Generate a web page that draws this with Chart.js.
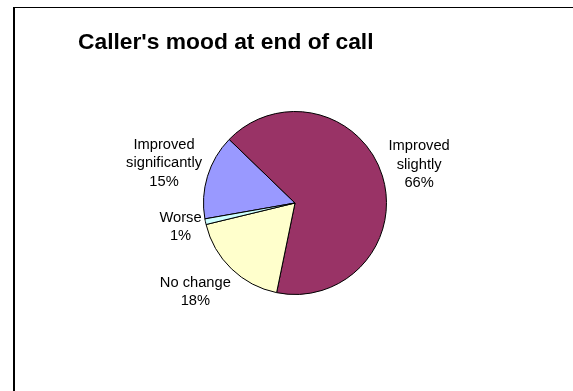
<!DOCTYPE html>
<html>
<head>
<meta charset="utf-8">
<title>Caller's mood at end of call</title>
<script src="https://cdn.jsdelivr.net/npm/chart.js@4.4.0/dist/chart.umd.min.js"></script>
<style>
  html, body { margin: 0; padding: 0; background: #fff; }
  canvas { display: block; }
</style>
</head>
<body>
<canvas id="mood" width="573" height="391"></canvas>
<script>
const moodLabels = [["Improved", "significantly"], ["Improved", "slightly"], ["No change"], ["Worse"]];
const moodShares = [15, 66, 18, 1];
const sliceColors = ["#9999FF", "#993366", "#FFFFCC", "#CCFFFF"];

const chartTitle = "Caller's mood at end of call";
const fontFamily = "'Liberation Sans', Arial, sans-serif";
const labelFont = "14.7px " + fontFamily;
const lineHeight = 18.5;

// white page plus the frame's left and top edges
const framePlugin = {
    id: "frame",
    beforeDraw(chart) {
        const ctx = chart.ctx;
        ctx.save();
        ctx.fillStyle = "#fff";
        ctx.fillRect(0, 0, chart.width, chart.height);
        ctx.fillStyle = "#000";
        ctx.fillRect(13, 7, chart.width - 13, 1);
        ctx.fillRect(13, 7, 2, chart.height - 7);
        ctx.font = "bold 22.8px " + fontFamily;
        ctx.textAlign = "left";
        ctx.textBaseline = "alphabetic";
        ctx.fillText(chartTitle, 78, 49);
        ctx.restore();
    }
};

// category name + percentage, pushed out along each slice's middle angle
const sliceLabelPlugin = {
    id: "sliceLabels",
    afterDatasetsDraw(chart, args, opts) {
        const ctx = chart.ctx;
        const meta = chart.getDatasetMeta(0);
        const values = chart.data.datasets[0].data;
        const total = values.reduce((a, b) => a + b, 0);
        ctx.save();
        ctx.font = labelFont;
        ctx.fillStyle = "#000";
        ctx.textAlign = "center";
        ctx.textBaseline = "middle";
        meta.data.forEach((arc, i) => {
            const lines = [...chart.data.labels[i], Math.round(values[i] / total * 100) + "%"];
            const w = Math.max(...lines.map(l => ctx.measureText(l).width));
            const h = lines.length * lineHeight;
            const p = arc.getProps(["x", "y", "startAngle", "endAngle", "outerRadius"], true);
            const mid = (p.startAngle + p.endAngle) / 2;
            const dx = Math.cos(mid), dy = Math.sin(mid);
            const reach = p.outerRadius + 1 + Math.abs(dx) * w / 2 + Math.abs(dy) * h / 2;
            const nudge = (opts.nudge || {})[i] || [0, 0];
            const cx = p.x + dx * reach + nudge[0];
            const cy = p.y + dy * reach + nudge[1];
            lines.forEach((line, k) => {
                ctx.fillText(line, cx, cy - h / 2 + lineHeight * (k + 0.5));
            });
        });
        ctx.restore();
    }
};

new Chart(document.getElementById("mood"), {
    type: "pie",
    plugins: [framePlugin, sliceLabelPlugin],
    data: {
        labels: moodLabels,
        datasets: [{
            data: moodShares,
            backgroundColor: sliceColors,
            borderColor: "#000",
            borderWidth: 1,
            hoverOffset: 0,
        }],
    },
    options: {
        responsive: false,
        animation: false,
        rotation: 260,
        layout: { padding: { left: 203, top: 111, right: 186, bottom: 96 } },
        plugins: {
            legend: { display: false },
            tooltip: { enabled: false },
            title: { display: false },
            // the lower label sits a little further round toward the left
            sliceLabels: { nudge: { 2: [-9, -5] } },
        },
    },
});
</script>
</body>
</html>
